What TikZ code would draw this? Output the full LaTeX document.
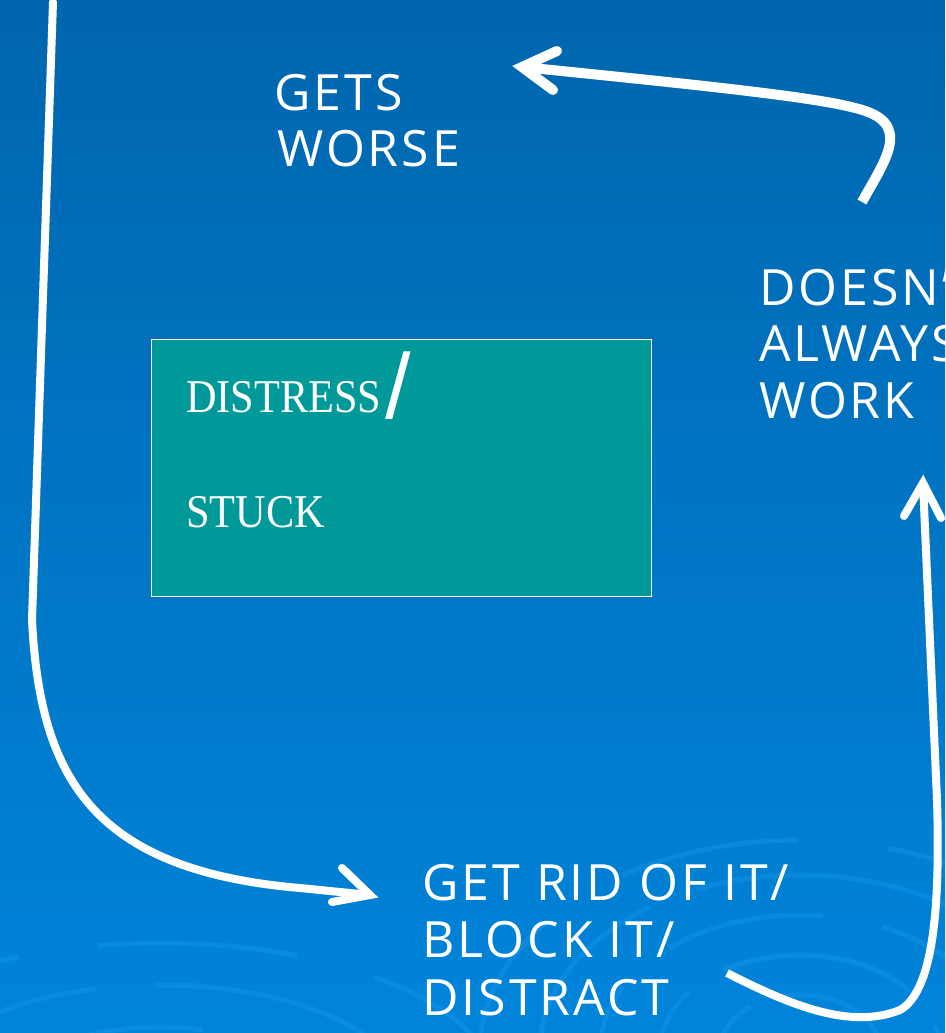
\documentclass[tikz,border=0pt]{standalone}
\usepackage{fontspec}
\setmainfont{Liberation Serif}
\newfontfamily\handfont[LetterSpace=6]{Open Sans}
\newfontfamily\boxfont[FakeStretch=0.9]{Liberation Serif}
\newfontfamily\slashfont{Liberation Sans}
\definecolor{bgtop}{RGB}{0,102,174}
\definecolor{bgmid}{RGB}{0,110,186}
\definecolor{bgbot}{RGB}{0,132,218}
\definecolor{boxteal}{RGB}{0,153,153}
\definecolor{swirlc}{RGB}{20,150,235}
\tikzset{
  hand/.style={font=\handfont\fontsize{50}{57}\selectfont, text=white, anchor=base west, inner sep=0pt},
  boxtxt/.style={font=\boxfont\fontsize{47}{50}\selectfont, text=white, anchor=base west, inner sep=0pt},
  arrline/.style={draw=white, line width=8pt, line cap=round},
  arrhead/.style={draw=white, line width=8pt, line cap=round, line join=miter},
  swirl/.style={draw=swirlc, line width=5pt, opacity=0.45}
}
\begin{document}
\begin{tikzpicture}[x=1pt,y=-1pt]
\useasboundingbox (0,0) rectangle (945,1033);
\clip (0,0) rectangle (945,1033);
\shade[top color=bgtop, middle color=bgmid, bottom color=bgbot] (0,0) rectangle (945,1033);
% faint swirls
\begin{scope}
\draw[swirl, dash pattern=on 120pt off 30pt] (800,1050) ellipse[x radius=80, y radius=55];
\draw[swirl, dash pattern=on 200pt off 40pt] (800,1050) ellipse[x radius=140, y radius=95];
\draw[swirl, dash pattern=on 160pt off 60pt] (800,1050) ellipse[x radius=200, y radius=135];
\draw[swirl, dash pattern=on 260pt off 50pt] (800,1050) ellipse[x radius=260, y radius=175];
\draw[swirl, dash pattern=on 180pt off 90pt] (800,1050) ellipse[x radius=320, y radius=210];
\draw[swirl, dash pattern=on 150pt off 50pt] (160,1090) ellipse[x radius=144, y radius=63];
\draw[swirl, dash pattern=on 220pt off 60pt] (160,1090) ellipse[x radius=240, y radius=105];
\draw[swirl, dash pattern=on 200pt off 80pt] (160,1090) ellipse[x radius=336, y radius=147];
\end{scope}
% box
\node[draw=white, line width=1.5pt, fill=boxteal, minimum width=500pt, minimum height=257pt, anchor=north west, inner sep=0pt] (box) at (150.5,338.5) {};
\node[boxtxt] (distress) at (186,412) {DISTRESS};
\node[font=\slashfont\fontsize{92}{92}\selectfont, text=white, anchor=base west, inner sep=0pt] (slash) at (385,418) {/};
\node[boxtxt] (stuck) at (186,527) {STUCK};
% hand texts
\node[hand] (gets1) at (274,110) {GETS};
\node[hand] (gets2) at (277,166) {WORSE};
\node[hand] (doesnt1) at (759,305) {DOESN’T};
\node[hand] (doesnt2) at (759,361) {ALWAYS};
\node[hand] (doesnt3) at (759,418) {WORK};
\node[hand] (rid1) at (422,900) {GET RID OF IT/};
\node[hand] (rid2) at (422,957) {BLOCK IT/};
\node[hand] (rid3) at (422,1015) {DISTRACT};
% left arrow
\coordinate (lstart) at (53,2);
\coordinate (ltip) at (370,895);
\coordinate (lw1) at (342,868);
\coordinate (lw2) at (332,902);
\draw[arrline] (lstart) -- (32,620) .. controls (40,775) and (90,870) .. (300,888) -- (ltip);
\draw[arrhead] (lw1) -- (ltip) -- (lw2);
% top arrow
\coordinate (tstart) at (862,202);
\coordinate (ttip) at (522,67);
\coordinate (tw1) at (557,51);
\coordinate (tw2) at (553,90);
\draw[arrline, line width=10pt, line cap=butt] (tstart) .. controls (885,160) and (915,122) .. (855,108) .. controls (815,97) and (700,85) .. (ttip);
\draw[arrhead, line width=10pt] (tw1) -- (ttip) -- (tw2);
% right arrow
\coordinate (rstart) at (727,973);
\coordinate (rtip) at (923,483);
\coordinate (rw1) at (904,516);
\coordinate (rw2) at (941,518);
\draw[arrline, line cap=butt] (rstart) .. controls (790,1005) and (850,1030) .. (900,1010) .. controls (935,990) and (940,900) .. (937,800) -- (rtip);
\draw[arrhead] (rw1) -- (rtip) -- (rw2);
\end{tikzpicture}
\end{document}
